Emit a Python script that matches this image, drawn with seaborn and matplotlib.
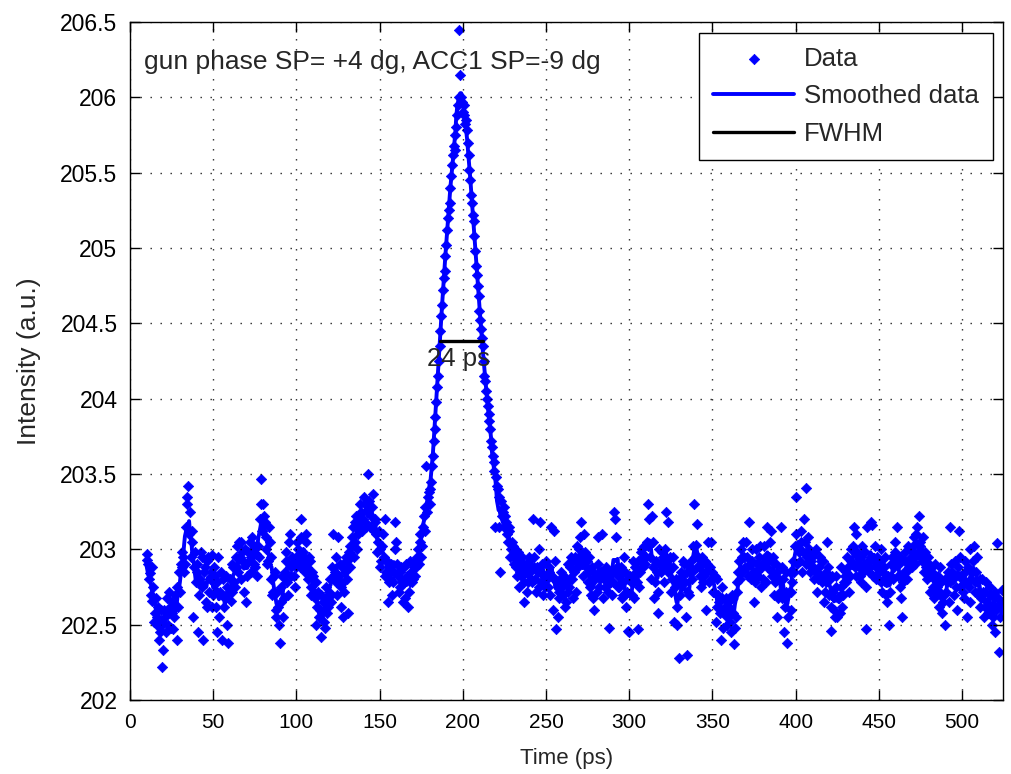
import numpy as np
import pandas as pd
import matplotlib
matplotlib.use("Agg")
import matplotlib.pyplot as plt
import seaborn as sns

# ---------------- data ----------------
# samples on whole picoseconds, starting at 10 ps
t_start_ps = 10
intensity = [
    202.97, 202.90, 202.84, 202.66, 202.75, 202.58, 202.50, 202.62, 202.45, 202.22,
    202.33, 202.55, 202.68, 202.50, 202.62, 202.58, 202.47, 202.70, 202.40, 202.62,
    202.72, 202.88, 202.95, 202.90, 203.30, 203.42, 203.25, 203.12, 202.55, 202.98,
    202.85, 202.45, 202.80, 202.95, 202.40, 202.88, 202.62, 202.95, 202.80, 202.96,
    202.70, 202.82, 202.45, 202.95, 202.72, 202.40, 202.80, 202.68, 202.75, 202.38,
    202.80, 202.72, 202.88, 202.75, 203.02, 202.85, 202.95, 203.05, 202.92, 203.00,
    202.65, 202.98, 203.05, 202.95, 203.00, 202.88, 202.97, 203.02, 203.20, 203.47,
    203.30, 203.18, 203.00, 202.92, 203.05, 202.80, 202.72, 202.85, 202.55, 202.62,
    202.38, 202.75, 202.55, 202.85, 202.98, 202.70, 203.10, 202.82, 202.90, 202.75,
    202.95, 203.00, 202.88, 203.20, 202.98, 202.85, 203.05, 202.80, 202.92, 202.75,
    202.82, 202.68, 202.50, 202.72, 202.60, 202.42, 202.65, 202.48, 202.75, 202.62,
    202.80, 202.70, 203.10, 202.85, 202.78, 203.08, 202.90, 202.62, 202.55, 202.85,
    202.92, 202.58, 203.02, 202.95, 203.15, 203.05, 203.22, 203.10, 203.18, 203.25,
    203.20, 203.30, 203.15, 203.50, 203.28, 203.22, 203.37, 203.18, 203.10, 203.05,
    203.00, 202.92, 203.10, 203.20, 202.85, 202.65, 202.80, 202.90, 202.78, 203.18,
    203.05, 202.82, 202.75, 202.88, 202.65, 202.80, 202.90, 202.62, 202.78, 202.85,
    202.80, 202.92, 202.88, 203.00, 203.05, 202.95, 203.15, 203.28, 203.55, 203.35,
    203.30, 203.45, 203.62, 203.80, 203.98, 204.15, 204.35, 204.55, 204.72, 204.85,
    205.02, 205.20, 205.30, 205.48, 205.62, 205.65, 205.80, 205.95, 206.45, 206.00,
    205.90, 205.88, 205.85, 205.70, 205.52, 205.35, 205.22, 205.08, 204.88, 204.75,
    204.58, 204.46, 204.35, 204.15, 204.05, 203.95, 203.85, 203.72, 203.62, 203.52,
    203.48, 203.40, 203.15, 203.32, 203.25, 203.28, 203.18, 203.05, 203.12, 203.00,
    203.02, 202.95, 202.88, 202.98, 202.75, 202.82, 202.90, 202.65, 202.85, 202.78,
    202.95, 202.80, 203.20, 202.88, 202.72, 202.85, 203.00, 202.78, 202.70, 202.82,
    202.92, 202.75, 202.85, 203.15, 202.60, 202.80, 202.47, 202.55, 202.72, 202.85,
    202.70, 202.80, 202.65, 202.90, 202.75, 202.95, 202.68, 202.85, 202.72, 202.92,
    203.00, 203.18, 202.95, 203.10, 202.88, 202.78, 202.95, 202.70, 202.85, 202.60,
    202.82, 203.08, 202.75, 202.85, 202.68, 202.80, 202.88, 202.72, 202.48, 202.78,
    202.85, 203.25, 203.08, 202.82, 202.75, 202.88, 202.70, 202.95, 202.62, 202.80,
    202.45, 202.78, 202.92, 202.68, 202.85, 202.47, 202.75, 202.98, 202.88, 203.02,
    202.95, 203.30, 203.20, 202.80, 203.05, 202.68, 202.92, 202.58, 203.00, 202.85,
    202.95, 202.78, 203.25, 203.18, 202.88, 202.72, 202.95, 202.52, 202.80, 202.50,
    202.28, 202.85, 202.78, 202.90, 202.55, 202.30, 202.70, 202.92, 202.85, 203.30,
    203.03, 203.17, 202.88, 202.75, 202.95, 202.82, 202.60, 202.90, 202.78, 203.05,
    202.85, 202.72, 202.52, 202.80, 202.65, 202.40, 202.75, 202.58, 202.68, 202.50,
    202.62, 202.45, 202.70, 202.37, 202.55, 202.78, 202.92, 203.00, 202.85, 202.95,
    203.05, 202.88, 203.18, 202.80, 202.92, 202.65, 203.00, 202.85, 202.95, 202.75,
    202.88, 203.02, 202.78, 203.15, 202.95, 203.12, 202.82, 202.70, 202.90, 202.55,
    202.80, 203.15, 202.68, 202.45, 202.85, 202.38, 202.72, 202.60, 202.78, 202.85,
    203.35, 202.90, 202.98, 203.05, 202.85, 203.20, 203.41, 202.95, 203.00, 202.88,
    202.95, 202.80, 203.00, 202.72, 202.88, 202.92, 202.78, 202.65, 202.85, 203.05,
    202.70, 202.46, 202.82, 202.60, 202.75, 202.55, 202.68, 202.88, 202.62, 202.78,
    202.85, 202.95, 202.72, 203.00, 202.90, 203.15, 202.82, 202.98, 202.88, 202.78,
    203.02, 202.90, 202.47, 203.15, 202.85, 203.18, 203.16, 202.92, 202.80, 202.95,
    202.85, 203.00, 202.72, 202.88, 202.78, 202.65, 202.50, 202.82, 202.95, 202.88,
    203.05, 203.15, 202.90, 202.75, 202.55, 202.85, 202.98, 202.80, 202.92, 203.00,
    202.88, 203.08, 202.95, 203.15, 203.22, 203.02, 202.92, 202.85, 202.98, 202.80,
    202.90, 202.72, 202.85, 202.68, 202.80, 202.75, 202.62, 202.88, 202.58, 202.70,
    202.50, 202.78, 202.65, 203.15, 202.85, 202.70, 202.82, 202.60, 203.12, 202.75,
    202.80, 202.68, 202.92, 202.55, 202.75, 203.00, 202.85, 203.02, 202.72, 202.95,
    202.70, 202.62, 202.80, 202.55, 202.72, 202.65, 202.58, 202.75, 202.50, 202.68,
    202.45, 203.04, 202.32, 202.62, 202.73,
]
# samples on half picoseconds, starting at 10.5 ps
t_start_half_ps = 10.5
intensity_half = [
    202.93, 202.80, 202.70, 202.88, 202.52, 202.68, 202.55, 202.40, 202.60, 202.52,
    202.60, 202.45, 202.58, 202.72, 202.48, 202.65, 202.55, 202.62, 202.75, 202.85,
    202.90, 202.98, 202.85, 203.15, 203.35, 203.10, 202.95, 203.05, 202.88, 202.78,
    202.90, 202.70, 202.98, 202.75, 202.85, 202.65, 202.92, 202.72, 202.85, 202.62,
    202.88, 202.62, 202.78, 202.55, 202.85, 202.70, 202.62, 202.82, 202.50, 202.72,
    202.66, 202.90, 202.78, 202.95, 202.88, 203.05, 202.80, 202.98, 202.72, 202.90,
    202.82, 202.92, 202.85, 203.08, 202.90, 203.02, 202.82, 202.95, 203.30, 203.12,
    203.22, 203.08, 202.90, 203.15, 202.95, 202.70, 202.82, 202.60, 202.72, 202.50,
    202.65, 202.82, 202.68, 202.92, 202.78, 203.05, 202.88, 202.95, 202.82, 202.88,
    203.05, 202.92, 203.08, 202.95, 202.90, 203.10, 202.88, 202.95, 202.70, 202.85,
    202.72, 202.78, 202.62, 202.55, 202.70, 202.58, 202.52, 202.68, 202.58, 202.72,
    202.65, 202.88, 202.82, 202.95, 202.70, 202.82, 202.75, 202.88, 202.72, 202.95,
    202.80, 202.98, 202.88, 203.08, 202.95, 203.18, 203.00, 203.15, 203.30, 203.12,
    203.35, 203.18, 203.25, 203.32, 203.15, 203.28, 203.12, 203.20, 202.98, 203.12,
    202.88, 203.02, 202.95, 202.82, 202.92, 202.78, 202.88, 202.70, 202.85, 203.00,
    202.90, 202.72, 202.85, 202.78, 202.88, 202.68, 202.82, 202.72, 202.92, 202.78,
    202.88, 202.82, 202.95, 202.90, 203.10, 203.02, 203.22, 203.12, 203.25, 203.38,
    203.40, 203.55, 203.72, 203.88, 204.08, 204.25, 204.45, 204.62, 204.80, 204.95,
    205.12, 205.25, 205.40, 205.55, 205.68, 205.75, 205.88, 206.00, 206.15, 205.97,
    205.95, 205.82, 205.78, 205.62, 205.45, 205.30, 205.18, 204.98, 204.82, 204.68,
    204.52, 204.40, 204.25, 204.12, 204.00, 203.90, 203.80, 203.68, 203.58, 203.15,
    203.42, 203.35, 202.85, 203.22, 203.15, 203.22, 203.10, 203.15, 202.95, 203.05,
    202.90, 203.00, 202.82, 202.92, 202.85, 202.95, 202.78, 202.88, 202.72, 202.92,
    202.85, 202.78, 202.95, 202.80, 202.88, 202.75, 203.18, 202.90, 202.82, 202.75,
    202.80, 202.88, 202.70, 202.82, 203.12, 202.92, 202.78, 202.68, 202.80, 202.75,
    202.82, 202.62, 202.78, 202.72, 202.88, 202.80, 202.92, 202.95, 203.02, 202.88,
    203.08, 202.90, 202.82, 202.98, 202.92, 202.85, 202.75, 202.88, 202.68, 202.80,
    202.72, 202.90, 202.80, 203.10, 202.85, 202.75, 202.82, 202.78, 202.85, 202.70,
    202.78, 203.20, 202.88, 202.75, 202.82, 202.68, 202.78, 202.85, 202.72, 202.46,
    202.82, 202.70, 202.80, 202.88, 202.78, 202.92, 202.85, 203.00, 202.95, 202.90,
    203.05, 203.02, 202.95, 203.22, 202.88, 202.78, 202.85, 202.72, 202.90, 202.98,
    202.88, 203.00, 202.92, 202.85, 202.95, 202.80, 202.88, 202.75, 202.62, 202.78,
    202.70, 202.82, 202.92, 202.78, 202.85, 202.72, 202.88, 202.80, 203.02, 202.95,
    202.88, 202.95, 202.82, 202.90, 202.78, 202.92, 202.85, 203.05, 202.88, 202.80,
    202.72, 202.82, 202.62, 202.70, 202.58, 202.68, 202.48, 202.62, 202.55, 202.65,
    202.52, 202.68, 202.58, 202.48, 202.72, 202.85, 202.80, 202.95, 203.05, 202.88,
    202.95, 202.82, 202.90, 203.00, 202.85, 202.78, 202.90, 202.82, 203.02, 202.90,
    202.80, 202.95, 202.88, 202.92, 203.05, 202.85, 202.95, 202.78, 202.85, 202.68,
    202.72, 202.88, 202.80, 202.62, 202.72, 202.55, 202.85, 202.72, 202.92, 203.02,
    203.10, 203.00, 202.92, 203.12, 202.98, 203.05, 202.90, 203.08, 202.85, 202.92,
    202.88, 202.98, 202.85, 202.80, 202.95, 202.82, 202.92, 202.72, 202.78, 202.88,
    202.80, 202.62, 202.72, 202.55, 202.82, 202.68, 202.58, 202.75, 202.70, 202.82,
    202.78, 202.88, 202.82, 202.92, 203.02, 202.88, 203.10, 202.90, 202.82, 202.95,
    202.85, 202.98, 202.75, 202.92, 202.88, 202.95, 202.82, 203.02, 202.88, 202.80,
    202.92, 202.78, 202.85, 202.95, 202.70, 202.82, 202.72, 202.90, 202.80, 202.98,
    202.92, 202.82, 202.95, 202.68, 202.78, 202.92, 202.85, 203.02, 202.88, 202.95,
    203.02, 202.90, 203.10, 202.98, 203.05, 202.95, 203.08, 202.92, 202.88, 202.95,
    202.82, 202.88, 202.75, 202.90, 202.72, 202.82, 202.70, 202.78, 202.65, 202.80,
    202.72, 202.85, 202.78, 202.90, 202.80, 202.92, 202.75, 202.88, 202.95, 202.82,
    202.72, 202.85, 202.78, 202.88, 202.65, 202.80, 202.92, 202.78, 202.85, 202.72,
    202.80, 202.68, 202.72, 202.62, 202.78, 202.58, 202.70, 202.62, 202.55, 202.72,
    202.60, 202.68, 202.55, 202.65,
]

fwhm_x = [186.5, 212.0]
fwhm_y = [204.38, 204.38]
fwhm_label = "24 ps"
annotation = "gun phase SP= +4 dg, ACC1 SP=-9 dg"

xticks = [0, 50, 100, 150, 200, 250, 300, 350, 400, 450, 500]
yticks = [202, 202.5, 203, 203.5, 204, 204.5, 205, 205.5, 206, 206.5]
ytick_labels = ["202", "202.5", "203", "203.5", "204", "204.5", "205", "205.5", "206", "206.5"]

# ---------------- frames ----------------
whole = pd.DataFrame({"time": t_start_ps + np.arange(len(intensity)), "intensity": intensity})
half = pd.DataFrame({"time": t_start_half_ps + np.arange(len(intensity_half)), "intensity": intensity_half})
df = pd.concat([whole, half]).sort_values("time").reset_index(drop=True)
df["smoothed"] = df["intensity"].rolling(9, center=True, min_periods=1).mean()
fw = pd.DataFrame({"x": fwhm_x, "y": fwhm_y})

# ---------------- style ----------------
sns.set_style("ticks")
plt.rcParams["font.family"] = ["Liberation Sans", "DejaVu Sans"]

fig = plt.figure(figsize=(10.12, 7.74), dpi=100)
fig.patch.set_facecolor("white")
ax = fig.add_axes([130 / 1012, 1 - 700 / 774, 873 / 1012, 678 / 774])

sns.scatterplot(data=df, x="time", y="intensity", marker="D", s=28, color="blue",
                edgecolor="blue", linewidth=0.5, ax=ax, label="Data", zorder=2)
sns.lineplot(data=df, x="time", y="smoothed", color="blue", linewidth=2.8, ax=ax,
             label="Smoothed data", errorbar=None, zorder=3)
sns.lineplot(data=fw, x="x", y="y", color="black", linewidth=2.4, ax=ax,
             label="FWHM", errorbar=None, zorder=4)

ax.text(178.6, 204.217, fwhm_label, fontsize=18.5, va="baseline", ha="left", zorder=5)
ax.text(8.2, 206.185, annotation, fontsize=19, va="baseline", ha="left", zorder=5)

ax.set_xlim(0, 524.6)
ax.set_ylim(202, 206.5)
ax.set_xticks(xticks)
ax.set_yticks(yticks)
ax.set_yticklabels(ytick_labels)
for lab in ax.get_xticklabels():
    lab.set_fontsize(15)
for lab in ax.get_yticklabels():
    lab.set_fontsize(16.5)

ax.set_xlabel("Time (ps)", fontsize=16, labelpad=12)
ax.set_ylabel("Intensity (a.u.)", fontsize=19, labelpad=14)

ax.tick_params(direction="in", length=7, width=1, top=True, right=True,
               colors="black", pad=9)
for sp in ax.spines.values():
    sp.set_visible(True)
    sp.set_color("black")
    sp.set_linewidth(1.0)

ax.set_axisbelow(False)
ax.grid(True, color="black", linestyle=(0, (1, 6.2)), linewidth=1.0, alpha=0.85)

leg = ax.legend(loc="upper right", bbox_to_anchor=(0.9885, 0.984), borderaxespad=0,
                fontsize=18.5, frameon=True, fancybox=False, edgecolor="black",
                framealpha=1, handlelength=3.15, handletextpad=0.38, labelspacing=0.52,
                borderpad=0.55, scatterpoints=1, markerscale=1.0)
leg.get_frame().set_linewidth(1.0)
leg.set_zorder(10)

fig.savefig("out.png", dpi=100)
